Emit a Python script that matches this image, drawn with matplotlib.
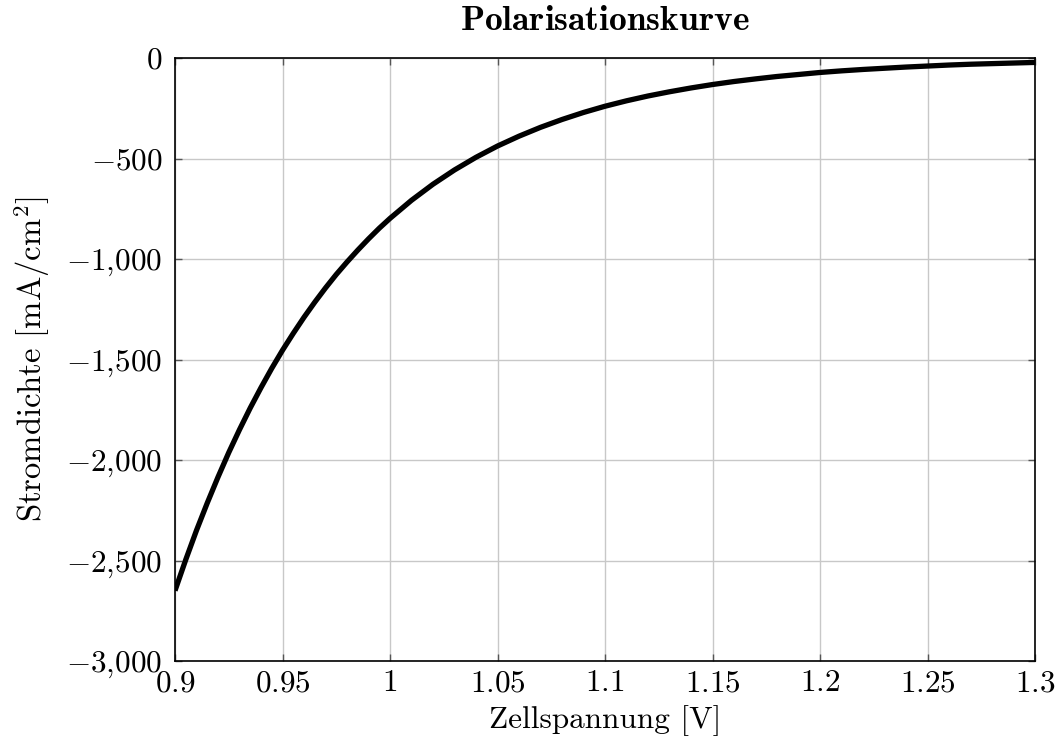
import matplotlib
matplotlib.use('Agg')
import matplotlib.pyplot as plt
from matplotlib.ticker import FuncFormatter

# Zellspannung [V] und Stromdichte [mA/cm²]
spannung = [0.900, 0.905, 0.910, 0.915, 0.920, 0.925, 0.930, 0.935, 0.940, 0.945,
            0.950, 0.955, 0.960, 0.965, 0.970, 0.975, 0.980, 0.985, 0.990, 0.995,
            1.00, 1.01, 1.02, 1.03, 1.04, 1.05, 1.06, 1.07, 1.08, 1.09,
            1.10, 1.11, 1.12, 1.13, 1.14, 1.15, 1.16, 1.17, 1.18, 1.19,
            1.20, 1.21, 1.22, 1.23, 1.24, 1.25, 1.26, 1.27, 1.28, 1.29, 1.30]
stromdichte = [-2650, -2496, -2350, -2214, -2085, -1963, -1849, -1741, -1640, -1544,
               -1454, -1370, -1290, -1215, -1144, -1077, -1015, -956, -900, -847,
               -798, -708, -628, -557, -494, -438, -389, -345, -306, -271,
               -240, -213, -189, -168, -149, -132, -117, -104, -92, -82,
               -72, -64, -57, -51, -45, -40, -35, -31, -28, -25, -22]

x_ticks = [0.9, 0.95, 1.0, 1.05, 1.1, 1.15, 1.2, 1.25, 1.3]
y_ticks = [0, -500, -1000, -1500, -2000, -2500, -3000]

plt.rcParams['font.family'] = ['cmr10', 'DejaVu Serif']
plt.rcParams['mathtext.fontset'] = 'cm'
plt.rcParams['axes.unicode_minus'] = False


def fmt_y(v, pos):
    s = f"{abs(v):,.0f}".replace(',', '{,}')
    return f"${'-' if v < 0 else ''}{s}$"


def fmt_x(v, pos):
    s = f"{v:.2f}".rstrip('0').rstrip('.')
    return f"${s}$"


fig = plt.figure(figsize=(10.6, 7.46), dpi=100)
ax = fig.add_axes([175 / 1060, 1 - 661 / 746, 860 / 1060, 603 / 746])

ax.plot(spannung, stromdichte, color='black', linewidth=3.8, solid_capstyle='butt', zorder=3)

ax.set_xlim(0.9, 1.3)
ax.set_ylim(-3000, 0)
ax.set_xticks(x_ticks)
ax.set_yticks(y_ticks)
ax.xaxis.set_major_formatter(FuncFormatter(fmt_x))
ax.yaxis.set_major_formatter(FuncFormatter(fmt_y))
ax.grid(True, color='#c8c8c8', linewidth=1.0)
ax.set_axisbelow(True)
ax.tick_params(direction='in', length=5, width=1, color='#555555', labelsize=22.5,
               top=True, right=True)
ax.tick_params(axis='x', pad=6)
ax.tick_params(axis='y', pad=9)
for s in ax.spines.values():
    s.set_linewidth(1.2)
    s.set_color('black')

ax.set_xlabel('Zellspannung [V]', fontsize=22.5, labelpad=6)
ax.set_ylabel(r'Stromdichte [mA/cm$^2$]', fontsize=23.5, labelpad=10)
ax.set_title(r'$\mathbf{Polarisationskurve}$', fontsize=25.5, pad=20)

fig.savefig('out.png', dpi=100)
